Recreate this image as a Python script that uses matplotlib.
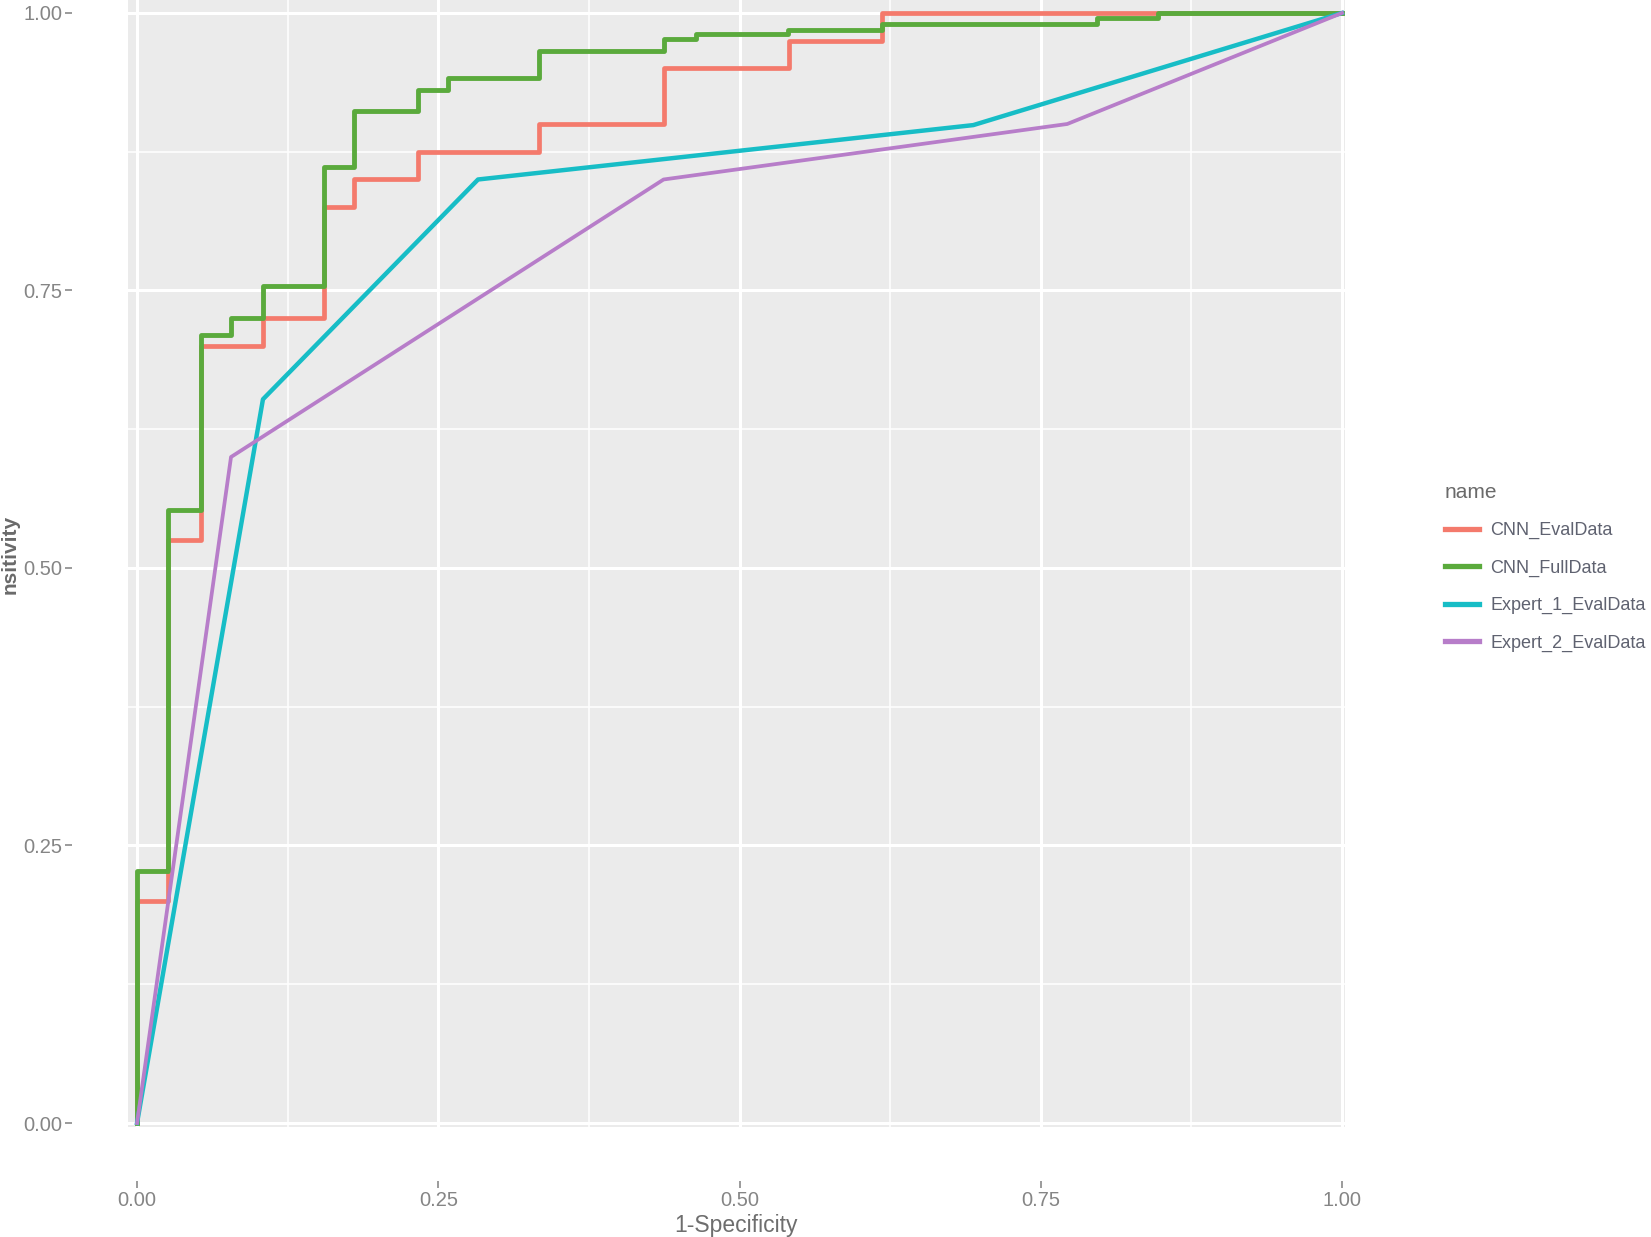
import matplotlib.pyplot as plt
import matplotlib.ticker as mticker

plt.rcParams['font.family'] = ['Liberation Sans', 'DejaVu Sans']

# ROC points (1-specificity, sensitivity)
cnn_eval_fpr = [0, 0, 0.0257, 0.053, 0.1045, 0.155, 0.180, 0.233, 0.334, 0.437, 0.541, 0.618, 1.0]
cnn_eval_tpr = [0, 0.200, 0.525, 0.700, 0.725, 0.825, 0.850, 0.875, 0.900, 0.950, 0.975, 1.0, 1.0]

cnn_full_fpr = [0, 0, 0.0257, 0.053, 0.078, 0.1045, 0.155, 0.180, 0.233, 0.258, 0.334, 0.437,
                0.4635, 0.540, 0.618, 0.797, 0.847, 1.0]
cnn_full_tpr = [0, 0.227, 0.552, 0.710, 0.725, 0.754, 0.861, 0.912, 0.931, 0.941, 0.966, 0.9766,
                0.981, 0.9847, 0.990, 0.9955, 1.0, 1.0]

exp1_fpr = [0, 0.1045, 0.283, 0.694, 1.0]
exp1_tpr = [0, 0.652, 0.850, 0.899, 1.0]

exp2_fpr = [0, 0.078, 0.437, 0.772, 1.0]
exp2_tpr = [0, 0.600, 0.850, 0.900, 1.0]

names = ["CNN_EvalData", "CNN_FullData", "Expert_1_EvalData", "Expert_2_EvalData"]
couleurs = ["#F47A6C", "#5AAA3C", "#17BDC6", "#B77DC9"]
ticks = [0, 0.25, 0.5, 0.75, 1.0]
tick_labels = ["0.00", "0.25", "0.50", "0.75", "1.00"]

fig = plt.figure(figsize=(16.51, 12.37), dpi=100)
ax = fig.add_axes([128/1651, 1 - 1127/1237, (1345-128)/1651, 1127/1237])
ax.set_facecolor("#EBEBEB")

ax.plot(cnn_eval_fpr, cnn_eval_tpr, drawstyle="steps-post", color=couleurs[0], lw=3.4, label=names[0])
ax.plot(cnn_full_fpr, cnn_full_tpr, drawstyle="steps-post", color=couleurs[1], lw=3.5, label=names[1])
ax.plot(exp1_fpr, exp1_tpr, color=couleurs[2], lw=3.2, label=names[2])
ax.plot(exp2_fpr, exp2_tpr, color=couleurs[3], lw=2.7, label=names[3])

ax.set_xlim(-0.0075, 1.0025)
ax.set_ylim(-0.0036, 1.0117)
ax.set_xticks(ticks)
ax.set_xticklabels(tick_labels)
ax.set_yticks(ticks)
ax.set_yticklabels(tick_labels)
ax.xaxis.set_minor_locator(mticker.FixedLocator([0.125, 0.375, 0.625, 0.875]))
ax.yaxis.set_minor_locator(mticker.FixedLocator([0.125, 0.375, 0.625, 0.875]))
ax.grid(which="major", color="white", lw=2.2)
ax.grid(which="minor", color="white", lw=1.1)
ax.set_axisbelow(True)

for s in ["top", "right"]:
    ax.spines[s].set_visible(False)
ax.spines["left"].set_position(("outward", 40))
ax.spines["bottom"].set_position(("outward", 39))
ax.spines["left"].set_visible(False)
ax.spines["bottom"].set_visible(False)
ax.tick_params(which="major", length=5, width=1.2, color="#8A8A8A", labelcolor="#858585",
               labelsize=14.5, pad=2)
ax.tick_params(which="minor", length=0)

ax.set_xlabel("1-Specificity", fontsize=16.5, color="#6E6E6E", labelpad=3)
fig.text(10/1651, 1 - 554/1237, "nsitivity", rotation=90, fontsize=15, fontweight="bold",
         color="#6A6A6A", ha="center", va="center")

leg = ax.legend(loc="upper left", bbox_to_anchor=(1436/1651, 1 - 474/1237),
                bbox_transform=fig.transFigure, frameon=False, title="name",
                fontsize=13, title_fontsize=15, borderpad=0, labelspacing=1.12,
                handlelength=1.9, handletextpad=0.6, alignment="left")
for t in leg.get_texts():
    t.set_color("#5F6270")
for h in leg.legend_handles:
    h.set_linewidth(3.8)
leg.get_title().set_color("#6A6A6A")

plt.savefig("out.png", dpi=100)
